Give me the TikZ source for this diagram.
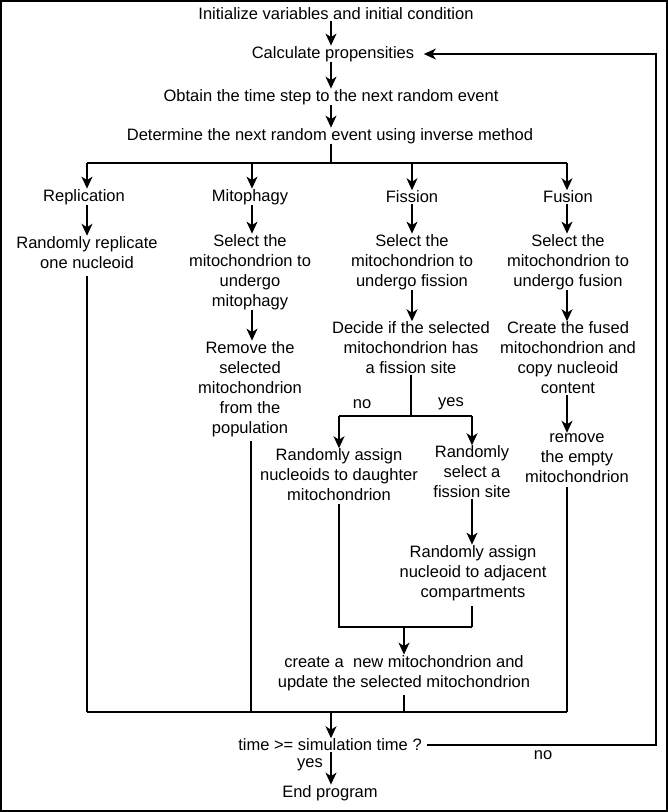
\documentclass[tikz,border=0pt]{standalone}
\usepackage{fontspec}
\setmainfont{Liberation Sans}
\usetikzlibrary{arrows.meta}
\begin{document}
\begin{tikzpicture}[x=1pt,y=-1pt,
  every node/.style={font=\fontsize{16.5}{20}\selectfont, inner sep=0.5pt, align=center},
  ln/.style={line width=1.4pt},
  arr/.style={ln,-{Stealth[length=12pt,width=11pt,inset=3.5pt]}}]
\useasboundingbox (0,0) rectangle (668,812);
\draw[line width=2pt] (1,1) rectangle (667,811);

% top chain
\node (init) at (336,14) {Initialize variables and initial condition};
\node (calc) at (333,54) {Calculate propensities};
\node (obtain) at (331,97) {Obtain the time step to the next random event};
\node (det) at (330,136) {Determine the next random event using inverse method};

% branch nodes
\node (repl) at (84,197) {Replication};
\node (mito) at (250,197) {Mitophagy};
\node (fiss) at (412,197) {Fission};
\node (fus) at (568,197) {Fusion};

\node (rand1) at (87,252.5) {Randomly replicate\\one nucleoid};
\node (sel1) at (250,272) {Select the\\mitochondrion to\\undergo\\mitophagy};
\node (rem1) at (250,389) {Remove the\\selected\\mitochondrion\\from the\\population};
\node (sel2) at (412,262) {Select the\\mitochondrion to\\undergo fission};
\node (dec) at (411,348) {Decide if the selected\\mitochondrion has\\a fission site};
\node (sel3) at (568,262) {Select the\\mitochondrion to\\undergo fusion};
\node (cfus) at (568,358) {Create the fused\\mitochondrion and\\copy nucleoid\\content};
\node (rem2) at (577,458) {remove\\the empty\\mitochondrion};
\node (asg1) at (339,475) {Randomly assign\\nucleoids to daughter\\mitochondrion};
\node (ssite) at (472,472) {Randomly\\select a\\fission site};
\node (asg2) at (473,573) {Randomly assign\\nucleoid to adjacent\\compartments};
\node (newm) at (404,673) {create a~~new mitochondrion and\\update the selected mitochondrion};
\node (time) at (330,745) {time >= simulation time ?};
\node (endp) at (330,793) {End program};

\node (no1) at (362,404) {no};
\node (yes1) at (451,404) {yes};
\node (no2) at (543,755) {no};
\node (yes2) at (310,765) {yes};

% column coordinates
\coordinate (cm) at (331,0);
\coordinate (jt) at (331,163);
\coordinate (c1) at (87,163);
\coordinate (c2) at (252,163);
\coordinate (c3) at (412,163);
\coordinate (c4) at (567,163);

\draw[arr] (init.south -| cm) -- (calc.north -| cm);
\draw[arr] (calc.south -| cm) -- (obtain.north -| cm);
\draw[arr] (obtain.south -| cm) -- (det.north -| cm);
\draw[ln] (det.south -| jt) -- (jt);
\draw[ln] (c1) -- (c4);
\draw[arr] (c1) -- (c1 |- repl.north);
\draw[arr] (c2) -- (c2 |- mito.north);
\draw[arr] (c3) -- (c3 |- fiss.north);
\draw[arr] (c4) -- (c4 |- fus.north);

\draw[arr] (repl.south -| c1) -- (c1 |- rand1.north);
\draw[arr] (mito.south -| c2) -- (c2 |- sel1.north);
\draw[arr] (sel1.south -| c2) -- (c2 |- rem1.north);
\draw[arr] (fiss.south -| c3) -- (c3 |- sel2.north);
\draw[arr] (sel2.south -| c3) -- (c3 |- dec.north);
\draw[arr] (fus.south -| c4) -- (c4 |- sel3.north);
\draw[arr] (sel3.south -| c4) -- (c4 |- cfus.north);
\draw[arr] (cfus.south -| c4) -- (c4 |- rem2.north);

% fission decision
\coordinate (fj) at (411,416);
\coordinate (fl) at (339,416);
\coordinate (fr) at (472,416);
\draw[ln] (dec.south -| fj) -- (fj);
\draw[ln] (fl) -- (fr);
\draw[arr] (fl) -- (fl |- asg1.north);
\draw[arr] (fr) -- (fr |- ssite.north);
\draw[arr] (ssite.south -| fr) -- (fr |- asg2.north);

\coordinate (ml) at (339,627);
\coordinate (mr) at (472,627);
\coordinate (mj) at (404,627);
\draw[ln,shorten <=2pt] (asg1.south -| ml) -- (ml) -- (mr);
\draw[ln,shorten <=5pt] (asg2.south -| mr) -- (mr);
\draw[arr] (mj) -- (mj |- newm.north);

% bottom bar
\coordinate (bb1) at (87,712);
\coordinate (bb2) at (251,712);
\coordinate (bj) at (404,712);
\coordinate (bb4) at (567,712);
\coordinate (tj) at (331,712);
\draw[ln,shorten <=7pt] (rand1.south -| c1) -- (bb1);
\draw[ln] (bb1) -- (bb4);
\draw[ln,shorten <=4pt] (rem1.south -| bb2) -- (bb2);
\draw[ln,shorten <=4pt] (newm.south -| bj) -- (bj);
\draw[ln,shorten <=4pt] (rem2.south -| bb4) -- (bb4);
\draw[arr] (tj) -- (tj |- time.north);
\draw[arr] (time.south -| tj) -- (tj |- endp.north);

% feedback
\coordinate (fb) at (656,743);
\draw[arr,shorten <=5pt,shorten >=9pt] (time.east) -- (time.east -| fb) |- (calc.east);
\end{tikzpicture}
\end{document}
